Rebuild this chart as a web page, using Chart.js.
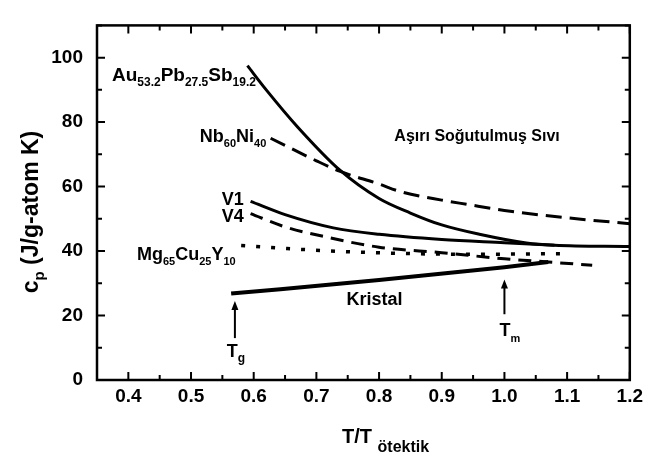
<!DOCTYPE html>
<html><head><meta charset="utf-8">
<script src="https://cdn.jsdelivr.net/npm/chart.js@4/dist/chart.umd.min.js"></script>
<style>html,body{margin:0;padding:0;background:#fff}#wrap{width:648px;height:461px}</style>
</head><body><div id="wrap"><canvas id="c" width="648" height="461"></canvas></div>
<script>
// ---- data ----
const auX = [0.59, 0.62, 0.67, 0.738, 0.8, 0.85, 0.9, 0.96, 1.035, 1.08, 1.2];
const auY = [97.5, 90, 78.5, 65, 56.3, 51.8, 48.1, 45.2, 42.5, 41.8, 41.4];
const nbX = [0.627, 0.7, 0.738, 0.8, 0.833, 0.9, 0.94, 1.0, 1.1, 1.2];
const nbY = [75, 68, 64.7, 60.8, 58.5, 55.8, 54.5, 52.6, 50.3, 48.5];
const v1X = [0.595, 0.65, 0.727, 0.8, 0.9, 1.0, 1.08];
const v1Y = [55.4, 51.3, 47.2, 45.2, 43.6, 42.6, 41.8];
const v4X = [0.595, 0.65, 0.717, 0.8, 0.9, 1.0, 1.07, 1.14];
const v4Y = [51.6, 47.5, 44.3, 41.2, 39.5, 37.6, 36.6, 35.6];
const mgX = [0.58, 0.65, 0.75, 0.85, 0.95, 1.09];
const mgY = [41.7, 40.8, 39.8, 39.2, 39.0, 39.2];
const krX = [0.564, 0.8, 1.0, 1.07];
const krY = [26.8, 31, 35, 36.6];
const xTickVals = [0.4, 0.5, 0.6, 0.7, 0.8, 0.9, 1.0, 1.1, 1.2];
const xMinorVals = [0.35, 0.45, 0.55, 0.65, 0.75, 0.85, 0.95, 1.05, 1.15];
const yTickVals = [0, 20, 40, 60, 80, 100];
const yMinorVals = [10, 30, 50, 70, 90, 110];
const arrowTg = {x: 0.57, from: 13, to: 24.5};
const arrowTm = {x: 1.0, from: 20.4, to: 31.2};

const pts = (xs, ys) => xs.map((x, i) => ({x, y: ys[i]}));
const FONT = '"Liberation Sans", Arial, Helvetica, sans-serif';

function rich(ctx, parts, x, y, M, S, off) {
  let cx = x;
  for (const p of parts) {
    ctx.font = 'bold ' + (p.s ? S : M) + 'px ' + FONT;
    ctx.fillText(p.t, cx, p.s ? y + off : y);
    cx += ctx.measureText(p.t).width;
  }
  return cx - x;
}
function richWidth(ctx, parts, M, S) {
  let w = 0;
  for (const p of parts) { ctx.font = 'bold ' + (p.s ? S : M) + 'px ' + FONT; w += ctx.measureText(p.t).width; }
  return w;
}

const deco = {
  id: 'deco',
  afterDatasetsDraw(chart) {
    const {ctx, chartArea: a, scales: {x, y}} = chart;
    ctx.save();
    ctx.strokeStyle = '#000'; ctx.fillStyle = '#000';
    // frame
    ctx.lineWidth = 2.5;
    ctx.strokeRect(a.left, a.top, a.right - a.left, a.bottom - a.top);
    // inward ticks
    ctx.lineWidth = 2;
    ctx.beginPath();
    const tx = (v, len) => { const p = x.getPixelForValue(v); ctx.moveTo(p, a.bottom); ctx.lineTo(p, a.bottom - len); ctx.moveTo(p, a.top); ctx.lineTo(p, a.top + len); };
    const ty = (v, len) => { const p = y.getPixelForValue(v); ctx.moveTo(a.left, p); ctx.lineTo(a.left + len, p); ctx.moveTo(a.right, p); ctx.lineTo(a.right - len, p); };
    xTickVals.forEach(v => tx(v, 8)); xMinorVals.forEach(v => tx(v, 5));
    yTickVals.forEach(v => ty(v, 8)); yMinorVals.forEach(v => ty(v, 5));
    ctx.stroke();
    // arrows
    for (const ar of [arrowTg, arrowTm]) {
      const px = x.getPixelForValue(ar.x), y0 = y.getPixelForValue(ar.from), y1 = y.getPixelForValue(ar.to);
      ctx.lineWidth = 2;
      ctx.beginPath(); ctx.moveTo(px, y0); ctx.lineTo(px, y1 + 6); ctx.stroke();
      ctx.beginPath(); ctx.moveTo(px, y1); ctx.lineTo(px - 3.5, y1 + 9); ctx.lineTo(px + 3.5, y1 + 9); ctx.closePath(); ctx.fill();
    }
    // text labels
    ctx.textBaseline = 'alphabetic'; ctx.textAlign = 'left';
    const X = v => x.getPixelForValue(v), Y = v => y.getPixelForValue(v);
    rich(ctx, [{t:'Au'},{t:'53.2',s:1},{t:'Pb'},{t:'27.5',s:1},{t:'Sb'},{t:'19.2',s:1}], X(0.3739), Y(92.9), 19, 12, 5);
    rich(ctx, [{t:'Nb'},{t:'60',s:1},{t:'Ni'},{t:'40',s:1}], X(0.514), Y(73.7), 18, 11, 5);
    rich(ctx, [{t:'V1'}], X(0.549), Y(54.3), 18, 11, 5);
    rich(ctx, [{t:'V4'}], X(0.549), Y(49.05), 18, 11, 5);
    rich(ctx, [{t:'Mg'},{t:'65',s:1},{t:'Cu'},{t:'25',s:1},{t:'Y'},{t:'10',s:1}], X(0.4137), Y(37.15), 18, 11, 5);
    rich(ctx, [{t:'Aşırı Soğutulmuş Sıvı'}], X(0.8244), Y(74.0), 16, 11, 5);
    rich(ctx, [{t:'Kristal'}], X(0.748), Y(23.2), 18, 11, 5);
    rich(ctx, [{t:'T'},{t:'g',s:1}], X(0.5665) - 6, Y(7.26), 18, 12, 5);
    rich(ctx, [{t:'T'},{t:'m',s:1}], X(1.0) - 5, Y(13.6), 18, 11, 6);
    // x title
    rich(ctx, [{t:'T/T '},{t:'ötektik',s:1}], 342, 443, 20, 16, 9);
    // y title (rotated)
    const yParts = [{t:'c'},{t:'p',s:1},{t:' (J/g-atom K)'}];
    const w = richWidth(ctx, yParts, 23, 15);
    ctx.translate(38, 212); ctx.rotate(-Math.PI / 2);
    rich(ctx, yParts, -w / 2, 0, 23, 15, 6);
    ctx.restore();
  }
};

const ds = (xs, ys, dash, width) => ({
  data: pts(xs, ys), showLine: true, borderColor: '#000', borderWidth: width,
  borderDash: dash, pointRadius: 0, fill: false, cubicInterpolationMode: 'monotone'
});

new Chart(document.getElementById('c'), {
  type: 'scatter',
  data: { datasets: [
    ds(auX, auY, [], 3),
    ds(nbX, nbY, [16, 8], 3),
    ds(v1X, v1Y, [], 3),
    ds(v4X, v4Y, [13, 8], 3),
    ds(mgX, mgY, [4, 11], 3.5),
    ds(krX, krY, [], 4)
  ]},
  options: {
    responsive: false, animation: false, devicePixelRatio: 1,
    layout: { padding: { top: 1, right: 17, left: 0, bottom: 0 } },
    plugins: { legend: { display: false }, tooltip: { enabled: false } },
    scales: {
      x: { type: 'linear', min: 0.35, max: 1.2,
        grid: { display: false, drawTicks: false }, border: { display: false },
        afterBuildTicks: s => { s.ticks = xTickVals.map(v => ({value: v})); },
        afterFit: s => { s.height = 81; },
        ticks: { color: '#000', padding: 5, font: { family: FONT, size: 19, weight: 'bold' }, callback: v => v.toFixed(1), maxRotation: 0, autoSkip: false } },
      y: { type: 'linear', min: 0, max: 110,
        grid: { display: false, drawTicks: false }, border: { display: false },
        afterBuildTicks: s => { s.ticks = yTickVals.map(v => ({value: v})); },
        afterFit: s => { s.width = 97; },
        ticks: { color: '#000', padding: 14, font: { family: FONT, size: 19, weight: 'bold' }, autoSkip: false } }
    }
  },
  plugins: [deco]
});
</script></body></html>
